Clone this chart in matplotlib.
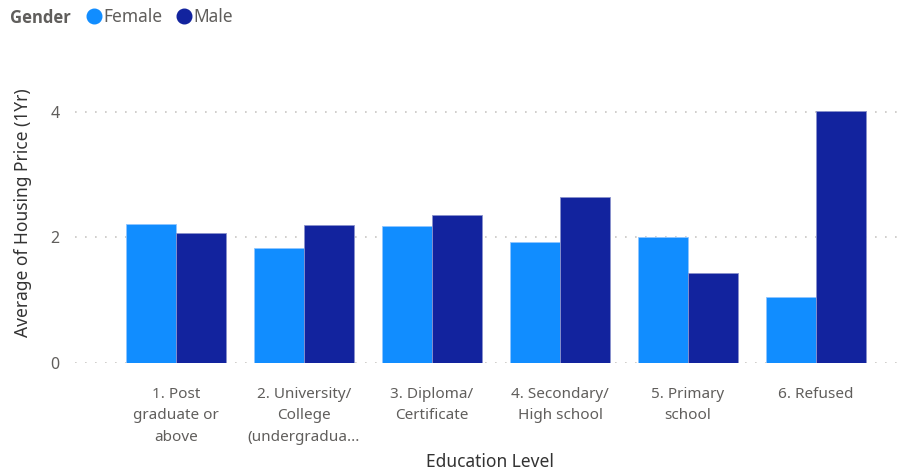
import numpy as np
import matplotlib.pyplot as plt
from matplotlib.lines import Line2D

plt.rcParams['font.family'] = ['Noto Sans', 'DejaVu Sans']

# Average housing price by education level and gender
categories = ['1. Post\ngraduate or\nabove',
              '2. University/\nCollege\n(undergradua...',
              '3. Diploma/\nCertificate',
              '4. Secondary/\nHigh school',
              '5. Primary\nschool',
              '6. Refused']
female = [2.21, 1.83, 2.18, 1.93, 2.00, 1.05]
male = [2.07, 2.19, 2.35, 2.65, 1.43, 4.02]
y_ticks = [0, 2, 4]

c_female = '#118DFF'
c_male = '#12239E'

fig = plt.figure(figsize=(9.1, 4.72), dpi=100)
ax = fig.add_axes([75 / 910, 1 - 363 / 472, 830 / 910, 301.4 / 472])

x = np.arange(len(categories))
w = 0.387
ax.bar(x - w / 2, female, width=w, color=c_female, edgecolor='#8fc6ff', linewidth=0.6, zorder=3)
ax.bar(x + w / 2, male, width=w, color=c_male, edgecolor='#8a92cc', linewidth=0.6, zorder=3)

ax.set_xlim(-0.789, 5.695)
ax.set_ylim(0, 4.8)
ax.set_yticks(y_ticks)
ax.set_xticks(x)
ax.set_xticklabels(categories, fontsize=11, color='#605E5C', linespacing=1.6)
ax.tick_params(axis='x', length=0, pad=17)
ax.tick_params(axis='y', length=0, pad=11, labelsize=11.5, labelcolor='#605E5C')

ax.grid(axis='y', color='#C8C6C4', linestyle=(0, (1, 5)), linewidth=1.2, zorder=0)
for s in ax.spines.values():
    s.set_visible(False)

ax.set_ylabel('Average of Housing Price (1Yr)', fontsize=12.5, color='#333333', labelpad=13)
ax.set_xlabel('Education Level', fontsize=12.5, color='#333333', labelpad=6)

# legend row at top
fig.text(10 / 910, 1 - 18 / 472, 'Gender', fontsize=12, fontweight='bold',
         family=['Open Sans', 'DejaVu Sans'], color='#605E5C', va='center', ha='left')
handles = [Line2D([], [], marker='o', linestyle='none', markersize=10.5, color=c_female),
           Line2D([], [], marker='o', linestyle='none', markersize=10.5, color=c_male)]
fig.legend(handles, ['Female', 'Male'], loc='center left', bbox_to_anchor=(84 / 910, 1 - 17 / 472),
           ncol=2, frameon=False, fontsize=12.5, labelcolor='#605E5C',
           handletextpad=0.0, columnspacing=0.7, handlelength=1.1, borderaxespad=0, borderpad=0)

fig.savefig('out.png', dpi=100)
